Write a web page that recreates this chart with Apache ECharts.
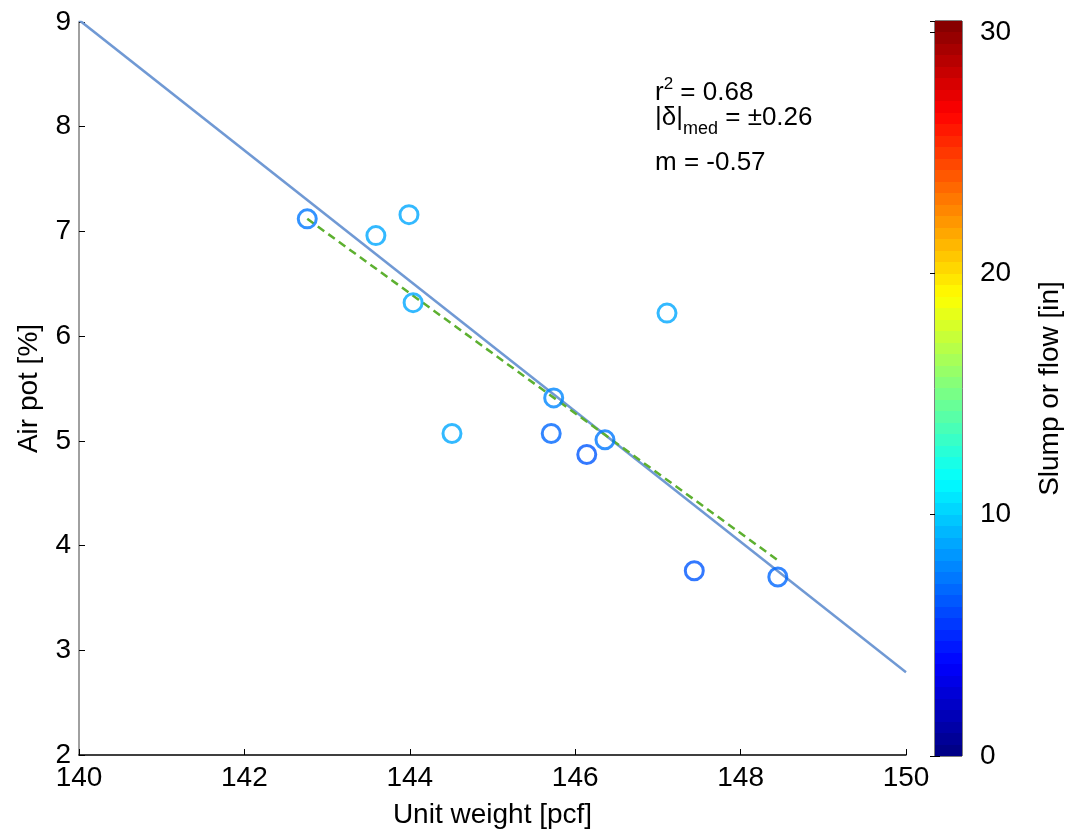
<!DOCTYPE html>
<html>
<head>
<meta charset="utf-8">
<script src="https://cdn.jsdelivr.net/npm/echarts@6/dist/echarts.min.js"></script>
<style>
  html, body { margin: 0; padding: 0; background: #fff; }
  #chart { width: 1067px; height: 840px; }
</style>
</head>
<body>
<div id="chart"></div>
<script>
// measured points: unit weight [pcf], air pot [%], slump or flow [in]
const unitWeight = [142.76, 143.59, 143.99, 144.04, 144.51, 145.74, 145.71, 146.14, 146.36, 147.11, 147.44, 148.45]
const airPot     = [7.12, 6.96, 7.16, 6.32, 5.07, 5.41, 5.07, 4.87, 5.01, 6.22, 3.76, 3.70]
const slump      = [7.5, 8.6, 8.6, 8.6, 8.6, 8.0, 7.0, 6.5, 7.5, 8.6, 6.5, 7.0]

// regression lines
const fitLine = [[140, 9.02], [150, 2.79]]
const medLine = [[142.76, 7.12], [148.45, 3.86]]

const xTicks = [140, 142, 144, 146, 148, 150]
const yTicks = [2, 3, 4, 5, 6, 7, 8, 9]
const cbarMax = 30.45
const cbarTicks = [0, 10, 20, 30]

const FONT = 'Liberation Sans, Arial, sans-serif'

// matlab jet colormap (64 levels)
const jet = (t) => {
  const c = (x) => Math.max(0, Math.min(1, x))
  const r = c(1.5 - Math.abs(4 * t - 3))
  const g = c(1.5 - Math.abs(4 * t - 2))
  const b = c(1.5 - Math.abs(4 * t - 1))
  return `rgb(${Math.round(r * 255)},${Math.round(g * 255)},${Math.round(b * 255)})`
}
const LEVELS = 64
const levelColor = (i) => jet((i + 0.5) / LEVELS)
const valueColor = (v) => levelColor(Math.min(LEVELS - 1, Math.floor((v / cbarMax) * LEVELS)))

// stepped gradient for the colour bar (bottom = 0)
const cbarStops = []
for (let i = 0; i < LEVELS; i++) {
  const col = levelColor(i)
  cbarStops.push({ offset: 1 - i / LEVELS, color: col })
  cbarStops.push({ offset: 1 - (i + 1) / LEVELS, color: col })
}
cbarStops.reverse()

const chart = echarts.init(document.getElementById('chart'))

const tickText = { fontFamily: FONT, fontSize: 28, color: '#000' }
const nameText = { fontFamily: FONT, fontSize: 28, color: '#000' }

chart.setOption({
  animation: false,
  backgroundColor: '#fff',
  textStyle: { fontFamily: FONT },
  grid: [
    { left: 79, top: 22, width: 827, height: 733 },
    { left: 935, top: 21, width: 27, height: 735, show: true, borderColor: '#000', borderWidth: 1 }
  ],
  xAxis: [
    {
      gridIndex: 0,
      type: 'value',
      min: 140,
      max: 150,
      interval: 2,
      name: 'Unit weight [pcf]',
      nameLocation: 'middle',
      nameGap: 46,
      nameTextStyle: nameText,
      axisLine: { lineStyle: { color: '#000', width: 1.5 } },
      axisTick: { inside: true, length: 6, lineStyle: { color: '#000' } },
      axisLabel: Object.assign({ margin: 9 }, tickText),
      splitLine: { show: false }
    },
    {
      gridIndex: 1,
      type: 'value',
      min: 0,
      max: 1,
      show: false
    }
  ],
  yAxis: [
    {
      gridIndex: 0,
      type: 'value',
      min: 2,
      max: 9,
      interval: 1,
      name: 'Air pot [%]',
      nameLocation: 'middle',
      nameGap: 36,
      nameRotate: 90,
      nameTextStyle: nameText,
      axisLine: { show: true, lineStyle: { color: '#808080', width: 1.5 } },
      axisTick: { show: true, inside: true, length: 6, lineStyle: { color: '#000' } },
      axisLabel: Object.assign({ margin: 8 }, tickText),
      splitLine: { show: false }
    },
    {
      gridIndex: 1,
      type: 'value',
      position: 'right',
      min: 0,
      max: cbarMax,
      interval: 10,
      name: 'Slump or flow [in]',
      nameLocation: 'middle',
      nameGap: 74,
      nameRotate: 90,
      nameTextStyle: nameText,
      axisLine: { show: false },
      axisTick: {
        show: true, inside: true, length: 5, lineStyle: { color: '#000' }
      },
      axisLabel: Object.assign({
        margin: 18,
        formatter: (v) => (cbarTicks.includes(v) ? String(v) : '')
      }, tickText),
      splitLine: { show: false }
    },
    {
      gridIndex: 1,
      type: 'value',
      position: 'left',
      min: 0,
      max: cbarMax,
      interval: 10,
      axisLine: { show: false },
      axisTick: { show: true, inside: true, length: 5, lineStyle: { color: '#000' } },
      axisLabel: { show: false },
      splitLine: { show: false }
    }
  ],
  series: [
    // colour bar
    {
      type: 'bar',
      xAxisIndex: 1,
      yAxisIndex: 1,
      data: [[0.5, cbarMax]],
      barWidth: '100%',
      silent: true,
      z: 1,
      itemStyle: {
        color: new echarts.graphic.LinearGradient(0, 0, 0, 1, cbarStops)
      }
    },
    {
      type: 'line',
      data: fitLine,
      showSymbol: false,
      lineStyle: { color: '#7099d4', width: 2.5 },
      z: 2
    },
    {
      type: 'line',
      data: medLine,
      showSymbol: false,
      lineStyle: { color: '#5db030', width: 2.5, type: [8, 5] },
      z: 3
    },
    {
      type: 'scatter',
      symbol: 'circle',
      symbolSize: 18,
      z: 4,
      data: unitWeight.map((x, i) => ({
        value: [x, airPot[i]],
        itemStyle: {
          color: 'rgba(0,0,0,0)',
          borderColor: valueColor(slump[i]),
          borderWidth: 3
        }
      }))
    }
  ],
  graphic: [
    {
      type: 'text',
      left: 655,
      top: 76,
      style: {
        text: '{a|r}{sup|2}{a| = 0.68}',
        rich: {
          a: { fontFamily: FONT, fontSize: 26, color: '#000', verticalAlign: 'bottom' },
          sup: { fontFamily: FONT, fontSize: 17, color: '#000', verticalAlign: 'top', padding: [0, 0, 13, 0] }
        }
      }
    },
    {
      type: 'text',
      left: 655,
      top: 105,
      style: {
        text: '{a||δ|}{sub|med}{a| = ±0.26}',
        rich: {
          a: { fontFamily: FONT, fontSize: 26, color: '#000', verticalAlign: 'top' },
          sub: { fontFamily: FONT, fontSize: 18, color: '#000', verticalAlign: 'bottom', padding: [15, 0, 0, 0] }
        }
      }
    },
    {
      type: 'text',
      left: 655,
      top: 150,
      style: { text: 'm = -0.57', fontFamily: FONT, fontSize: 26, fill: '#000' }
    }
  ]
})
</script>
</body>
</html>
